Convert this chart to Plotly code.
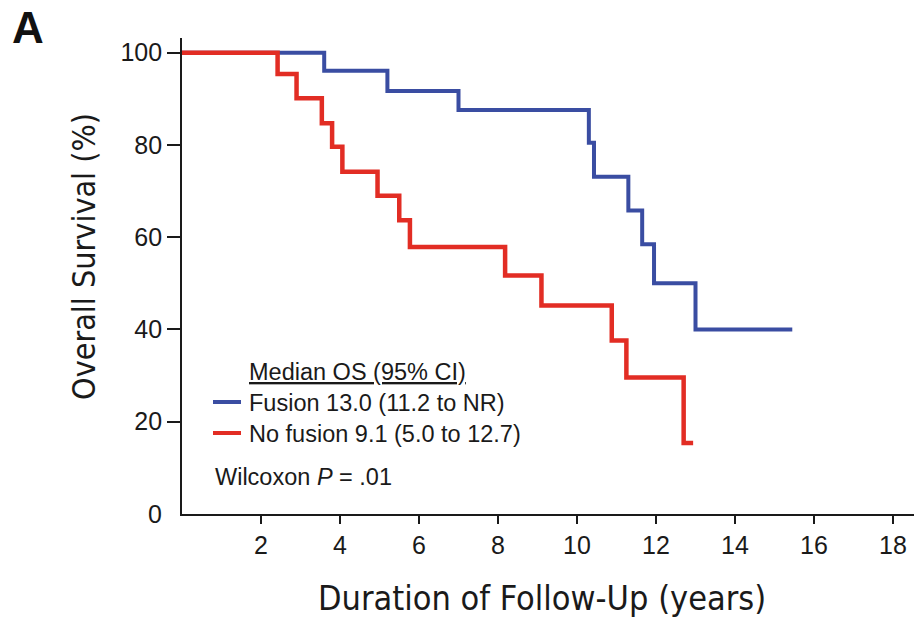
import plotly.graph_objects as go

# Kaplan-Meier estimates: event times (years) and survival (%) after each step
fusion_time = [0, 3.6, 5.2, 7.0, 10.3, 10.43, 11.3, 11.65, 11.95, 13.0, 15.45]
fusion_surv = [100, 96.1, 91.7, 87.6, 80.5, 73.1, 65.8, 58.5, 50.0, 40.0, 40.0]

nofusion_time = [0, 2.42, 2.9, 3.54, 3.8, 4.06, 4.95, 5.5, 5.77, 8.18, 9.1, 10.88, 11.25, 12.7, 12.94]
nofusion_surv = [100, 95.4, 90.1, 84.7, 79.6, 74.2, 69.0, 63.7, 57.9, 51.7, 45.2, 37.6, 29.6, 15.4, 15.4]

x_ticks = [2, 4, 6, 8, 10, 12, 14, 16, 18]
y_ticks = [0, 20, 40, 60, 80, 100]

legend_title = "Median OS (95% CI)"
legend_fusion = "Fusion 13.0 (11.2 to NR)"
legend_nofusion = "No fusion 9.1 (5.0 to 12.7)"
stat_text = "Wilcoxon <i>P</i> = .01"

BLUE = "#3a4da2"
RED = "#e22d24"
INK = "#1a1a1a"

W, H = 914, 620
L, R, T, B = 182, 0, 38, 106
PW, PH = W - L - R, H - T - B


def px(x):
    return (x - L) / PW


def py(y):
    return (H - B - y) / PH


fig = go.Figure()
fig.add_trace(go.Scatter(x=fusion_time, y=fusion_surv, mode="lines",
                         line=dict(color=BLUE, width=4, shape="hv"),
                         showlegend=False, hoverinfo="skip"))
fig.add_trace(go.Scatter(x=nofusion_time, y=nofusion_surv, mode="lines",
                         line=dict(color=RED, width=4.5, shape="hv"),
                         showlegend=False, hoverinfo="skip"))

tick_font = dict(family="Liberation Sans, Arial, sans-serif", size=25, color=INK)
narrow = "Liberation Sans Narrow, DejaVu Sans Condensed, Arial Narrow, sans-serif"

fig.update_xaxes(range=[0, PW / 39.5], tickvals=x_ticks, ticktext=[str(v) for v in x_ticks],
                 ticks="outside", ticklen=8, tickwidth=1.5, tickcolor=INK,
                 showline=True, linecolor=INK, linewidth=1.8, showgrid=False,
                 zeroline=False, tickfont=tick_font)
fig.update_yaxes(range=[0, (H - B - T) / 4.613], tickvals=y_ticks[1:],
                 ticktext=[str(v) for v in y_ticks[1:]],
                 ticks="outside", ticklen=13, tickwidth=1.5, tickcolor=INK,
                 showline=True, linecolor=INK, linewidth=1.8, showgrid=False,
                 zeroline=False, tickfont=tick_font)

ann = []
# corner "0" label of the survival axis
ann.append(dict(x=px(164), y=y_ticks[0], xref="paper", yref="y", text=str(y_ticks[0]),
                xanchor="right", yanchor="middle", showarrow=False, font=tick_font))
# panel letter
ann.append(dict(x=px(28), y=py(27), xref="paper", yref="paper", text="<b>A</b>",
                xanchor="center", yanchor="middle", showarrow=False,
                font=dict(family="Liberation Sans, Arial, sans-serif", size=44, color="#111")))
# axis titles
ann.append(dict(x=px(84), y=py(256), xref="paper", yref="paper", text="Overall Survival (%)",
                textangle=-90, xanchor="center", yanchor="middle", showarrow=False,
                font=dict(family=narrow, size=32, color=INK)))
ann.append(dict(x=px(542), y=py(598), xref="paper", yref="paper",
                text="Duration of Follow-Up (years)", xanchor="center", yanchor="middle",
                showarrow=False, font=dict(family=narrow, size=34, color=INK)))

legend_font = dict(family="Liberation Sans, Arial, sans-serif", size=23.5, color=INK)
ann.append(dict(x=px(247), y=py(372), xref="paper", yref="paper", text="<u>" + legend_title + "</u>",
                xanchor="left", yanchor="middle", showarrow=False, font=legend_font))
ann.append(dict(x=px(247), y=py(403), xref="paper", yref="paper", text=legend_fusion,
                xanchor="left", yanchor="middle", showarrow=False, font=legend_font))
ann.append(dict(x=px(247), y=py(434), xref="paper", yref="paper", text=legend_nofusion,
                xanchor="left", yanchor="middle", showarrow=False, font=legend_font))
ann.append(dict(x=px(213), y=py(477), xref="paper", yref="paper", text=stat_text,
                xanchor="left", yanchor="middle", showarrow=False, font=legend_font))

shapes = [
    dict(type="line", xref="paper", yref="paper", x0=px(213), x1=px(241), y0=py(402), y1=py(402),
         line=dict(color=BLUE, width=4)),
    dict(type="line", xref="paper", yref="paper", x0=px(213), x1=px(241), y0=py(433), y1=py(433),
         line=dict(color=RED, width=4)),
]

fig.update_layout(width=W, height=H, margin=dict(l=L, r=R, t=T, b=B),
                  paper_bgcolor="white", plot_bgcolor="white",
                  annotations=ann, shapes=shapes)

fig.write_html("out.html")
